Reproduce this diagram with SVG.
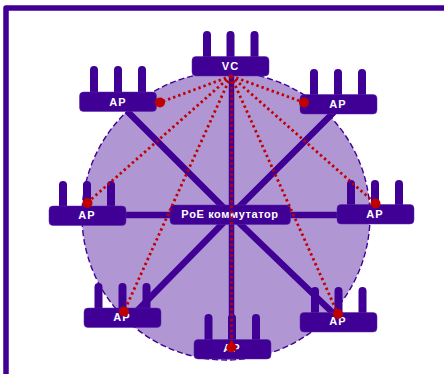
<svg xmlns="http://www.w3.org/2000/svg" width="444" height="374" viewBox="0 0 444 374">
<style>
.box{fill:#400096;stroke:#5a2aa8;stroke-width:.5}
.ant{stroke:#400096;stroke-width:8;stroke-linecap:round;fill:none}
.wire{stroke:#400096;stroke-width:6.500;fill:none}
.wifi{stroke:#c00000;stroke-width:2.800;stroke-dasharray:2.400 3;fill:none}
.dot{fill:#c00000}
text{font-family:"Liberation Sans",Arial,sans-serif;font-weight:700;font-size:11px;fill:#fff;text-anchor:middle;letter-spacing:1px}
#poe text{letter-spacing:.6px}
</style>
<rect width="444" height="374" fill="#fff"/>
<path d="M6 380V8H450" fill="none" stroke="#400096" stroke-width="5.5" stroke-linejoin="round"/>
<circle id="coverage" cx="226" cy="216" r="144" fill="#b097d4" stroke="#400096" stroke-width="1.4" stroke-dasharray="6 3"/>
<g id="connectors">
<path class="wire" d="M127 111L231 215M334 112L231 215M132 316L231 215M335 315L231 215M87 215H375"/>
<path class="wire" d="M231.500 75V345" style="stroke-width:5.500"/>
</g>
<g id="ap-nw"><path class="ant" d="M94 92V70M118 92V70M142 92V70"/><rect class="box" x="79.500" y="92" width="77" height="19.500" rx="4"/><text x="118" y="105.500">AP</text></g>
<g id="vc"><path class="ant" d="M207 56V35M230.500 56V35M254.500 56V35"/><rect class="box" x="192" y="56.500" width="77" height="19.500" rx="4"/><text x="230.500" y="70">VC</text></g>
<g id="ap-ne"><path class="ant" d="M314 94V73M338 94V73M362 94V73"/><rect class="box" x="300" y="94.500" width="77" height="19.500" rx="4"/><text x="338" y="108">AP</text></g>
<g id="ap-w"><path class="ant" d="M63 206V185M87 206V185M111 206V185"/><rect class="box" x="49" y="206" width="77" height="19.500" rx="4"/><text x="87" y="219">AP</text></g>
<g id="ap-e"><path class="ant" d="M351 204V184M375 204V184M399 204V184"/><rect class="box" x="337" y="204.500" width="77" height="19.500" rx="4"/><text x="375" y="218">AP</text></g>
<g id="ap-sw"><path class="ant" d="M98.500 308V287M122.500 308V287M146.500 308V287"/><rect class="box" x="84" y="308" width="77" height="19.500" rx="4"/><text x="122" y="321">AP</text></g>
<g id="ap-s"><path class="ant" d="M208.500 340V318M232 340V318M256 340V318"/><rect class="box" x="194" y="339.500" width="77" height="19.500" rx="4"/><text x="232" y="352">AP</text></g>
<g id="ap-se"><path class="ant" d="M315 312V291M338.500 312V291M362.500 312V291"/><rect class="box" x="300" y="312.500" width="77" height="19.500" rx="4"/><text x="338" y="324.500">AP</text></g>
<g id="poe"><rect class="box" x="170" y="205" width="120.500" height="19.500" rx="4"/><text x="230" y="218">PoE коммутатор</text></g>
<g id="wireless">
<path class="wifi" d="M231 76L160 102.500M231 76L304 102.500M231 76L87 203M231 76L375.500 203.500M231 76L124 311.500M231 76L338 314M231.500 76V347.500"/>
<circle class="dot" cx="160" cy="102.500" r="5"/><circle class="dot" cx="304" cy="102.500" r="5"/><circle class="dot" cx="87.500" cy="203" r="5"/><circle class="dot" cx="375.500" cy="203.500" r="5"/><circle class="dot" cx="124" cy="311.500" r="5"/><circle class="dot" cx="338" cy="314" r="5"/><circle class="dot" cx="231.500" cy="347.500" r="5"/>
</g>
</svg>
